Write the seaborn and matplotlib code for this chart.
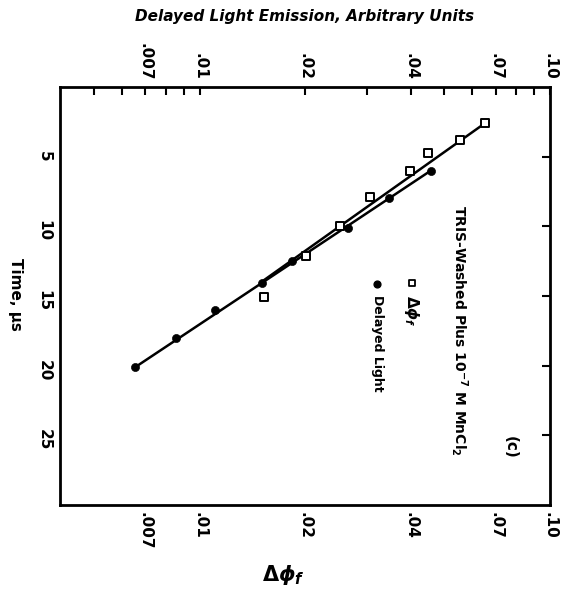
import matplotlib
matplotlib.use("Agg")
import matplotlib.pyplot as plt
import seaborn as sns
import pandas as pd
from matplotlib.ticker import FixedLocator, FixedFormatter, NullFormatter

# Δφf (quadrados abertos)
tempo_dphi = [2.6, 3.8, 4.7, 6.0, 7.9, 10.0, 12.1, 15.1]
valor_dphi = [0.0652, 0.0553, 0.0448, 0.0398, 0.0306, 0.0251, 0.0201, 0.0153]

# luz retardada (círculos cheios)
tempo_luz = [6.0, 8.0, 10.1, 12.5, 14.1, 16.0, 18.0, 20.1]
valor_luz = [0.0457, 0.0347, 0.0265, 0.0184, 0.0151, 0.0111, 0.00854, 0.00656]

# retas ajustadas, extremos
reta_dphi_t = [2.6, 14.0]
reta_dphi_v = [0.0652, 0.0150]
reta_luz_t = [6.0, 20.1]
reta_luz_v = [0.0457, 0.00656]

ticks_tempo = [5, 10, 15, 20, 25]
ticks_log = [0.007, 0.01, 0.02, 0.04, 0.07, 0.1]
rotulos_log = ['.007', '.01', '.02', '.04', '.07', '.10']
ticks_log_menores = [0.005, 0.006, 0.008, 0.009, 0.03, 0.05, 0.06, 0.08, 0.09]

sns.set_theme(style="white")
plt.rcParams['font.family'] = ['DejaVu Sans']
plt.rcParams['font.weight'] = 'bold'
plt.rcParams['text.color'] = 'black'
plt.rcParams['xtick.color'] = 'black'
plt.rcParams['ytick.color'] = 'black'

fig = plt.figure(figsize=(5.67, 5.92), dpi=100)
ax = fig.add_axes([0.106, 0.147, 0.864, 0.706])

df_reta1 = pd.DataFrame({'v': reta_dphi_v, 't': reta_dphi_t})
df_reta2 = pd.DataFrame({'v': reta_luz_v, 't': reta_luz_t})
sns.lineplot(data=df_reta1, x='v', y='t', ax=ax, color='black', linewidth=1.8,
             estimator=None, sort=False)
sns.lineplot(data=df_reta2, x='v', y='t', ax=ax, color='black', linewidth=1.8,
             estimator=None, sort=False)

sns.scatterplot(x=valor_luz, y=tempo_luz, ax=ax, marker='o', s=34,
                color='black', edgecolor='black', zorder=3)
sns.scatterplot(x=valor_dphi, y=tempo_dphi, ax=ax, marker='s', s=38,
                facecolor='white', edgecolor='black', linewidth=1.4, zorder=4)

ax.set_xscale('log')
ax.set_xlim(0.004, 0.1)
ax.set_ylim(30, 0)
ax.set_xlabel('')
ax.set_ylabel('')

ax.xaxis.set_major_locator(FixedLocator(ticks_log))
ax.xaxis.set_major_formatter(FixedFormatter(rotulos_log))
ax.xaxis.set_minor_locator(FixedLocator(ticks_log_menores))
ax.xaxis.set_minor_formatter(NullFormatter())
ax.yaxis.set_major_locator(FixedLocator(ticks_tempo))

ax.tick_params(which='both', direction='in', top=True, right=True,
               labeltop=True, labelbottom=True, labelleft=True, labelright=False,
               length=6, width=1.5, color='black', labelsize=11)
ax.tick_params(axis='x', labelrotation=-90, pad=5)
ax.tick_params(axis='y', labelrotation=-90, pad=6)
for s in ax.spines.values():
    s.set_linewidth(2)
    s.set_color('black')

# legenda desenhada à mão (texto girado como no original)
ax.text(0.816, 0.718, 'TRIS-Washed Plus 10$^{-7}$ M MnCl$_2$', transform=ax.transAxes,
        rotation=-90, ha='center', va='top', fontsize=10)
ax.text(0.918, 0.139, '(c)', transform=ax.transAxes, rotation=-90,
        ha='center', va='center', fontsize=11)
ax.scatter([0.718], [0.531], transform=ax.transAxes, marker='s', s=22,
           facecolor='white', edgecolor='black', linewidth=1.3)
ax.text(0.718, 0.502, r'$\Delta\phi_f$', transform=ax.transAxes, rotation=-90,
        ha='center', va='top', fontsize=11)
ax.scatter([0.647], [0.529], transform=ax.transAxes, marker='o', s=24, color='black')
ax.text(0.647, 0.502, 'Delayed Light', transform=ax.transAxes, rotation=-90,
        ha='center', va='top', fontsize=9)

fig.text(305 / 567, 1 - 17 / 592, 'Delayed Light Emission, Arbitrary Units',
         ha='center', va='center', fontsize=11, style='italic')
fig.text(15 / 567, 1 - 294 / 592, 'Time, μs', rotation=-90,
         ha='center', va='center', fontsize=11)
fig.text(283 / 567, 1 - 575 / 592, r'$\mathit{\Delta\phi_f}$',
         ha='center', va='center', fontsize=15)

plt.savefig('out.png', dpi=100)
plt.close()
